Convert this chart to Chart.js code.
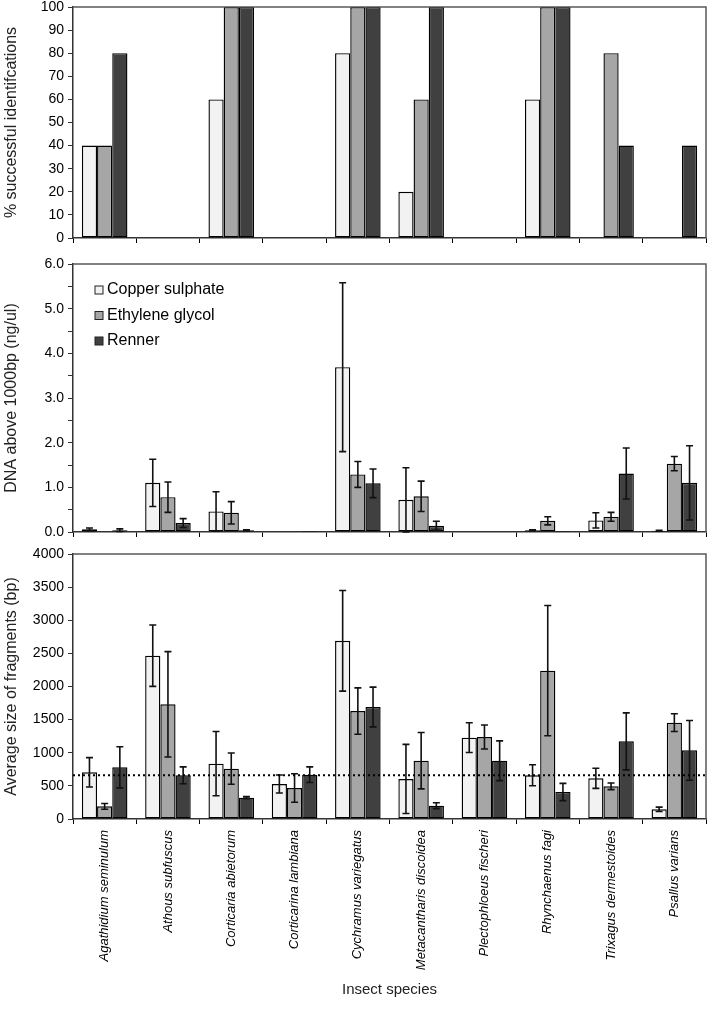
<!DOCTYPE html>
<html>
<head>
<meta charset="utf-8">
<title>Preservation of insect DNA</title>
<script src="https://cdn.jsdelivr.net/npm/chart.js@4.4.0/dist/chart.umd.min.js"></script>
<style>
  body { margin: 0; background: #fff; }
  #wrap { position: relative; width: 709px; height: 1014px; }
  canvas { position: absolute; left: 0; }
</style>
</head>
<body>
<div id="wrap">
  <canvas id="idChart" width="709" height="248" style="top:0px"></canvas>
  <canvas id="dnaChart" width="709" height="294" style="top:248px"></canvas>
  <canvas id="sizeChart" width="709" height="472" style="top:542px"></canvas>
</div>
<script>
const species = ["Agathidium seminulum", "Athous subfuscus", "Corticaria abietorum", "Corticarina lambiana",
  "Cychramus variegatus", "Metacantharis discoidea", "Plectophloeus fischeri", "Rhynchaenus fagi",
  "Trixagus dermestoides", "Psallus varians"];
const treatments = ["Copper sulphate", "Ethylene glycol", "Renner"];

// % successful identifications
const idCopper = [40, 0, 60, 0, 80, 20, 0, 60, 0, 0];
const idGlycol = [40, 0, 100, 0, 100, 60, 0, 100, 80, 0];
const idRenner = [80, 0, 100, 0, 100, 100, 0, 100, 40, 40];

// DNA above 1000bp (ng/ul) with error (+/-)
const dnaCopper = [0.06, 1.10, 0.46, 0.01, 3.69, 0.72, 0.01, 0.04, 0.26, 0.03];
const dnaCopperErr = [0.03, 0.53, 0.44, 0, 1.89, 0.72, 0, 0.01, 0.17, 0.01];
const dnaGlycol = [0.01, 0.78, 0.43, 0.01, 1.29, 0.80, 0.01, 0.25, 0.34, 1.53];
const dnaGlycolErr = [0, 0.34, 0.25, 0, 0.29, 0.34, 0, 0.09, 0.10, 0.16];
const dnaRenner = [0.04, 0.20, 0.04, 0.02, 1.09, 0.14, 0.01, 0.02, 1.31, 1.10];
const dnaRennerErr = [0.03, 0.10, 0.01, 0, 0.32, 0.10, 0, 0, 0.57, 0.83];

// average fragment size (bp) with error (+/-)
const sizeCopper = [704, 2465, 835, 528, 2690, 604, 1228, 660, 614, 146];
const sizeCopperErr = [222, 463, 485, 136, 760, 522, 224, 158, 151, 33];
const sizeGlycol = [191, 1731, 760, 468, 1630, 880, 1238, 2239, 493, 1454];
const sizeGlycolErr = [44, 795, 236, 216, 350, 426, 182, 983, 50, 134];
const sizeRenner = [780, 659, 322, 669, 1690, 201, 880, 408, 1172, 1036];
const sizeRennerErr = [310, 128, 15, 118, 300, 45, 300, 130, 430, 450];
const sizeLine = 660;

const fills = ["#f2f2f2", "#a6a6a6", "#404040"];

Chart.defaults.font.family = "'Liberation Sans', Arial, sans-serif";
Chart.defaults.color = "#000";

function bars(values, errs) {
   return values.map((v, i) => ({
      label: treatments[i],
      data: v,
      errors: errs ? errs[i] : null,
      backgroundColor: fills[i],
      borderColor: "#000",
      borderWidth: 1.4,
      borderSkipped: false,
      barPercentage: 1,
      categoryPercentage: 0.72,
   }));
}

// top + right frame of the plot area
const frame = {
   id: "frame",
   afterDraw(chart) {
      const { ctx, chartArea: a } = chart;
      ctx.save();
      ctx.strokeStyle = "#595959";
      ctx.lineWidth = 1.5;
      ctx.beginPath();
      ctx.moveTo(a.left, a.top);
      ctx.lineTo(a.right, a.top);
      ctx.lineTo(a.right, a.bottom);
      ctx.stroke();
      ctx.restore();
   },
};

const errorBars = {
   id: "errorBars",
   afterDatasetsDraw(chart) {
      const ctx = chart.ctx;
      const y = chart.scales.y;
      ctx.save();
      ctx.strokeStyle = "#111";
      ctx.lineWidth = 1.6;
      chart.data.datasets.forEach((ds, i) => {
         if (!ds.errors) return;
         chart.getDatasetMeta(i).data.forEach((bar, j) => {
            const e = ds.errors[j];
            if (!e) return;
            const v = ds.data[j];
            const top = y.getPixelForValue(v + e);
            const bot = y.getPixelForValue(Math.max(0, v - e));
            ctx.beginPath();
            ctx.moveTo(bar.x, top);
            ctx.lineTo(bar.x, bot);
            ctx.moveTo(bar.x - 3.5, top);
            ctx.lineTo(bar.x + 3.5, top);
            ctx.moveTo(bar.x - 3.5, bot);
            ctx.lineTo(bar.x + 3.5, bot);
            ctx.stroke();
         });
      });
      ctx.restore();
   },
};

function yFit(scale) {
   scale.width = 73;
   scale.paddingTop = 0;
   scale.paddingBottom = 0;
}

function options(yOpts, xHeight, xExtra) {
   const x = Object.assign({
      grid: { offset: true, drawOnChartArea: false, tickLength: 5, color: "#000" },
      border: { color: "#333", width: 1.5 },
      ticks: { display: false },
      afterFit(scale) {
         scale.height = xHeight;
         scale.paddingLeft = 0;
         scale.paddingRight = 0;
      },
   }, xExtra || {});
   return {
      responsive: false,
      animation: false,
      layout: { padding: { top: yOpts.padTop, right: 3, left: 0, bottom: 0 } },
      plugins: { legend: { display: false }, tooltip: { enabled: false } },
      scales: {
         x: x,
         y: {
            min: 0,
            max: yOpts.max,
            grid: { drawOnChartArea: false, tickLength: 5, color: "#333" },
            border: { color: "#333", width: 1.5 },
            ticks: {
               stepSize: yOpts.step,
               padding: 4,
               font: { size: 14 },
               callback: yOpts.label,
            },
            title: {
               display: true,
               text: yOpts.title,
               font: { size: 16 },
               color: "#222",
               padding: { top: 2, bottom: 0 },
            },
            afterFit: yFit,
         },
      },
   };
}

// panel 1
new Chart(document.getElementById("idChart"), {
   type: "bar",
   data: { labels: species, datasets: bars([idCopper, idGlycol, idRenner]) },
   options: options({
      padTop: 7, max: 100, step: 5, title: "% successful identifcations",
      label: (v) => (v % 10 === 0 ? v : ""),
   }, 10),
   plugins: [frame],
});

// panel 2
const legendBox = {
   id: "legendBox",
   afterDraw(chart) {
      const { ctx, chartArea: a } = chart;
      ctx.save();
      ctx.font = "16px 'Liberation Sans', Arial, sans-serif";
      ctx.textBaseline = "middle";
      chart.data.datasets.forEach((ds, i) => {
         const yy = a.top + 26 + i * 25.5;
         ctx.fillStyle = ds.backgroundColor;
         ctx.fillRect(a.left + 22, yy - 4, 8, 8);
         ctx.strokeStyle = "#222";
         ctx.lineWidth = 1;
         ctx.strokeRect(a.left + 22, yy - 4, 8, 8);
         ctx.fillStyle = "#000";
         ctx.fillText(ds.label, a.left + 34, yy);
      });
      ctx.restore();
   },
};

new Chart(document.getElementById("dnaChart"), {
   type: "bar",
   data: {
      labels: species,
      datasets: bars([dnaCopper, dnaGlycol, dnaRenner], [dnaCopperErr, dnaGlycolErr, dnaRennerErr]),
   },
   options: options({
      padTop: 16, max: 6, step: 0.5, title: "DNA above 1000bp (ng/ul)",
      label: (v) => (Math.abs(v - Math.round(v)) < 1e-6 ? v.toFixed(1) : ""),
   }, 10),
   plugins: [frame, errorBars, legendBox],
});

// panel 3
const refLine = {
   id: "refLine",
   afterDatasetsDraw(chart) {
      const { ctx, chartArea: a } = chart;
      const yy = chart.scales.y.getPixelForValue(sizeLine);
      ctx.save();
      ctx.strokeStyle = "#000";
      ctx.lineWidth = 2;
      ctx.setLineDash([2, 3]);
      ctx.beginPath();
      ctx.moveTo(a.left, yy);
      ctx.lineTo(a.right, yy);
      ctx.stroke();
      ctx.restore();
   },
};

new Chart(document.getElementById("sizeChart"), {
   type: "bar",
   data: {
      labels: species,
      datasets: bars([sizeCopper, sizeGlycol, sizeRenner], [sizeCopperErr, sizeGlycolErr, sizeRennerErr]),
   },
   options: options({
      padTop: 12, max: 4000, step: 250, title: "Average size of fragments (bp)",
      label: (v) => (v % 500 === 0 ? v : ""),
   }, 195, {
      ticks: {
         display: true,
         minRotation: 90,
         maxRotation: 90,
         autoSkip: false,
         padding: 6,
         font: { size: 13, style: "italic" },
      },
      title: {
         display: true,
         text: "Insect species",
         font: { size: 15 },
         color: "#222",
         padding: { top: 0, bottom: 15 },
      },
   }),
   plugins: [frame, errorBars, refLine],
});
</script>
</body>
</html>
